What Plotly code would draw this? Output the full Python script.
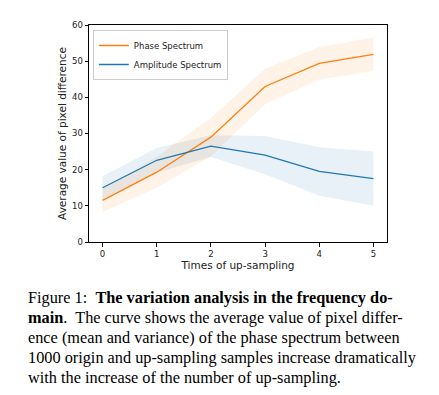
import plotly.graph_objects as go

x_vals = [0, 1, 2, 3, 4, 5]
phase_mean = [11.5, 19.3, 29.0, 43.0, 49.4, 51.9]
phase_std = [3.2, 4.3, 5.3, 4.9, 4.5, 4.6]
amp_mean = [15.0, 22.6, 26.5, 24.0, 19.5, 17.5]
amp_std = [3.2, 3.4, 3.0, 5.3, 6.7, 7.5]

series_names = ["Phase Spectrum", "Amplitude Spectrum"]
x_title = "Times of up-sampling"
y_title = "Average value of pixel difference"
y_ticks = [0, 10, 20, 30, 40, 50, 60]

caption_lines = [
    "Figure 1:  <b>The variation analysis in the frequency do-</b>",
    "<b>main</b>.  The curve shows the average value of pixel differ-",
    "ence (mean and variance) of the phase spectrum between",
    "1000 origin and up-sampling samples increase dramatically",
    "with the increase of the number of up-sampling.",
]

ORANGE = "#ff7f0e"
BLUE = "#1f77b4"

fig = go.Figure()

def add_band(mean, std, fill):
    upper = [m + s for m, s in zip(mean, std)]
    lower = [m - s for m, s in zip(mean, std)]
    fig.add_trace(go.Scatter(x=x_vals, y=upper, mode="lines", line=dict(width=0),
                             showlegend=False, hoverinfo="skip"))
    fig.add_trace(go.Scatter(x=x_vals, y=lower, mode="lines", line=dict(width=0),
                             fill="tonexty", fillcolor=fill, showlegend=False, hoverinfo="skip"))

add_band(phase_mean, phase_std, "rgba(255,127,14,0.1)")
add_band(amp_mean, amp_std, "rgba(31,119,180,0.1)")

fig.add_trace(go.Scatter(x=x_vals, y=phase_mean, mode="lines", name=series_names[0],
                         line=dict(color=ORANGE, width=1.3)))
fig.add_trace(go.Scatter(x=x_vals, y=amp_mean, mode="lines", name=series_names[1],
                         line=dict(color=BLUE, width=1.3)))

fig.update_xaxes(range=[-0.25, 5.25], tickvals=x_vals, showline=True, mirror=True,
                 linecolor="black", linewidth=1, ticks="outside", ticklen=3.5,
                 tickcolor="black", showgrid=False, zeroline=False,
                 tickfont=dict(size=8.5, color="#222"),
                 title=dict(text=x_title, font=dict(size=10.5, color="#222"), standoff=3))
fig.update_yaxes(range=[0, 60], tickvals=y_ticks, showline=True, mirror=True,
                 linecolor="black", linewidth=1, ticks="outside", ticklen=3.5,
                 tickcolor="black", showgrid=False, zeroline=False,
                 tickfont=dict(size=8.5, color="#222"),
                 title=dict(text=y_title, font=dict(size=10.5, color="#222"), standoff=3))

# page body has an 8px default margin, so figure coords = screen coords - 8
PLOT_L, PLOT_B = 81, 234
for i, line in enumerate(caption_lines):
    fig.add_annotation(text=line, xref="paper", yref="paper", x=0, y=0,
                       xanchor="left", yanchor="middle", showarrow=False,
                       xshift=18 - PLOT_L, yshift=-(289 + 20 * i - PLOT_B),
                       font=dict(family="Liberation Serif, Times New Roman, serif",
                                 size=16.3, color="black"))

fig.update_layout(
    width=431, height=387,
    margin=dict(l=81, r=52, t=12, b=153),
    paper_bgcolor="white", plot_bgcolor="white",
    font=dict(family="DejaVu Sans, sans-serif", color="#222"),
    legend=dict(x=0.013, y=0.977, xanchor="left", yanchor="top", traceorder="normal",
                bgcolor="rgba(255,255,255,0.8)", bordercolor="#ccc", borderwidth=1,
                font=dict(size=8.5), tracegroupgap=0, itemwidth=30),
    showlegend=True,
)

fig.write_html("out.html")
